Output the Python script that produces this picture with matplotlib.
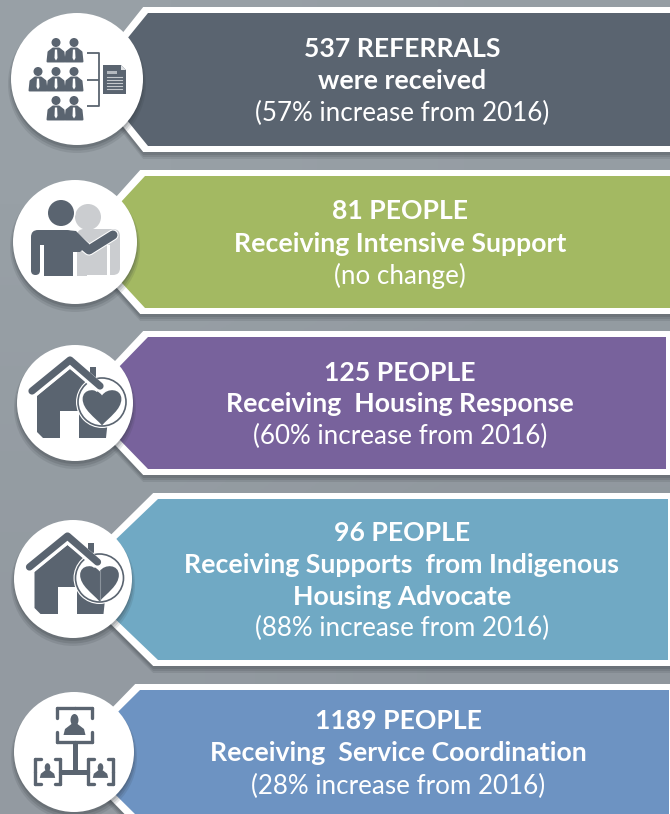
"""
Infographic: referrals and people receiving supports, with change from 2016.
"""

import matplotlib

matplotlib.use("Agg")

import matplotlib.pyplot as plt
import numpy as np
from matplotlib.colors import LinearSegmentedColormap
from matplotlib.patches import Circle, Ellipse, FancyBboxPatch, PathPatch, Polygon, Rectangle
from matplotlib.path import Path

plt.rcParams["font.family"] = ["Lato", "Open Sans", "DejaVu Sans"]

WIDTH, HEIGHT = 670, 814
DARK = "#5a6470"
LIGHT = "#cbcdd0"

headlines = ["537 REFERRALS", "81 PEOPLE", "125 PEOPLE", "96 PEOPLE", "1189 PEOPLE"]
descriptions = [
    ["were received"],
    ["Receiving Intensive Support"],
    ["Receiving  Housing Response"],
    ["Receiving Supports  from Indigenous", "Housing Advocate"],
    ["Receiving  Service Coordination"],
]
changes = [
    "(57% increase from 2016)",
    "(no change)",
    "(60% increase from 2016)",
    "(88% increase from 2016)",
    "(28% increase from 2016)",
]
colors = ["#5a6470", "#a3b962", "#78629c", "#70a9c4", "#6d93c2"]

# banner layout, in pixels: inner top, inner bottom, inner left corner, right edge
tops = [13, 176, 337, 499, 690]
bottoms = [146, 308, 469, 660, 819]
lefts = [148, 145, 148, 158, 140]
rights = [672, 672, 666, 668, 669]
apexes = [94, 84, 84, 74, 75]

# circle layout
circle_x = [77, 75, 75, 73, 74]
circle_y = [79, 242, 403, 579, 752]
circle_r = [66, 62, 58, 59, 60]
text_x = [402, 400, 400, 402, 398]
line_y = [[49, 81, 113], [211, 244, 276], [373, 404, 436], [533, 565, 597, 628], [721, 753, 786]]


def banner_outline(top, bottom, left, right, apex, grow=0):
    mid = 0.5 * (top + bottom)
    return [
        (apex - grow * 1.4, mid),
        (left - grow * 0.8, top - grow),
        (right + grow, top - grow),
        (right + grow, bottom + grow),
        (left - grow * 0.8, bottom + grow),
    ]


def draw_person(ax, x, y, color=DARK):
    # small bust in a suit, with a white tie
    ax.add_patch(Circle((x, y - 12.5), 4.5, fc=color, ec="none"))
    ax.add_patch(
        Polygon(
            [(x - 3, y - 6.5), (x + 3, y - 6.5), (x + 7.5, y - 3), (x + 8.5, y + 6.5),
             (x - 8.5, y + 6.5), (x - 7.5, y - 3)],
            fc=color, ec=color, lw=1.4, joinstyle="round",
        )
    )
    ax.add_patch(
        Polygon(
            [(x - 1.1, y - 5.5), (x + 1.1, y - 5.5), (x + 1.5, y + 3), (x, y + 5.5), (x - 1.5, y + 3)],
            fc="white", ec="none",
        )
    )


def draw_group_icon(ax):
    for px, py in [(38, 84), (56, 55), (74, 55), (56, 84), (74, 84), (56, 113), (74, 113)]:
        draw_person(ax, px, py)
    for seg in [[(87, 53), (99, 53), (99, 106), (87, 106)], [(87, 80), (99, 80)]]:
        xs, ys = zip(*seg)
        ax.plot(xs, ys, color=DARK, lw=1.3, solid_capstyle="butt")
    ax.add_patch(
        Polygon([(103, 65), (121, 65), (126, 70), (126, 94), (103, 94)], fc=DARK, ec="none")
    )
    ax.add_patch(Polygon([(121, 65), (126, 70), (121, 70)], fc="#dfe2e5", ec="none"))
    ax.add_patch(Rectangle((107, 71), 10, 2.5, fc="#b4b9bf", ec="none"))
    for ly in [77, 80, 83, 86, 89]:
        ax.plot([107, 122], [ly, ly], color="#c4c8cc", lw=0.8)


def draw_support_icon(ax):
    # person behind
    ax.add_patch(Circle((88, 217), 13, fc=LIGHT, ec="none"))
    ax.add_patch(
        FancyBboxPatch(
            (77, 229), 43, 46, boxstyle="round,pad=0,rounding_size=7", fc=LIGHT, ec="none"
        )
    )
    ax.add_patch(Rectangle((77, 262), 10, 14, fc=LIGHT, ec="none"))
    ax.add_patch(Rectangle((107, 245), 3, 32, fc="white", ec="none"))
    # person in front
    ax.add_patch(Circle((61, 213), 14.5, fc="white", ec="none", zorder=4.5))
    ax.add_patch(Circle((61, 213), 13, fc=DARK, ec="none", zorder=5))
    ax.add_patch(
        FancyBboxPatch(
            (31, 230), 42, 46, boxstyle="round,pad=0,rounding_size=7", fc=DARK, ec="none", zorder=5
        )
    )
    ax.add_patch(Rectangle((62, 266), 11, 10, fc=DARK, ec="none", zorder=5))
    ax.add_patch(Rectangle((31, 262), 13, 15, fc="white", ec="none", zorder=5.2))
    ax.add_patch(Rectangle((40, 245), 4, 20, fc="white", ec="none", zorder=5.2))
    ax.add_patch(
        FancyBboxPatch(
            (31, 240), 9, 35, boxstyle="round,pad=0,rounding_size=4.5", fc=DARK, ec="none", zorder=6
        )
    )
    # arm over the shoulder
    arm_x, arm_y = [72, 89, 113], [236, 250, 235]
    ax.plot(arm_x, arm_y, color="white", lw=8, zorder=5.5, solid_capstyle="round")
    ax.plot(arm_x, arm_y, color=DARK, lw=6.5, zorder=6, solid_capstyle="round")
    ax.add_patch(
        Polygon([(66, 230), (76, 231), (89, 244), (80, 252), (66, 252)], fc=DARK, ec="none", zorder=6)
    )


def heart_path(x, y, s):
    verts = [
        (x, y + 22 * s), (x - 8 * s, y + 13 * s), (x - 22 * s, y + 4 * s), (x - 22 * s, y - 8 * s),
        (x - 22 * s, y - 20 * s), (x - 6 * s, y - 21 * s), (x, y - 12 * s),
        (x + 6 * s, y - 21 * s), (x + 22 * s, y - 20 * s), (x + 22 * s, y - 8 * s),
        (x + 22 * s, y + 4 * s), (x + 8 * s, y + 13 * s), (x, y + 22 * s),
    ]
    codes = [Path.MOVETO] + [Path.CURVE4] * 12
    return Path(verts, codes)


def draw_house_icon(ax, dx, dy, split=False):
    # house body, door, roof, chimney, heart badge
    ax.add_patch(Rectangle((90 + dx, 367 + dy), 6, 18, fc=DARK, ec="none"))
    ax.add_patch(
        Polygon(
            [(37 + dx, 396 + dy), (70 + dx, 369 + dy), (110 + dx, 400 + dy), (106 + dx, 438 + dy),
             (43 + dx, 438 + dy), (37 + dx, 432 + dy)],
            fc=DARK, ec="none",
        )
    )
    ax.plot(
        [32 + dx, 70 + dx, 100 + dx], [393 + dy, 362 + dy, 388 + dy],
        color="white", lw=7.5, solid_capstyle="butt",
    )
    ax.plot(
        [32 + dx, 70 + dx, 100 + dx], [391 + dy, 360 + dy, 386 + dy],
        color=DARK, lw=5.2, solid_capstyle="round",
    )
    ax.add_patch(Rectangle((60 + dx, 411 + dy), 19, 28, fc="white", ec="none"))
    ax.add_patch(Circle((102 + dx, 402 + dy), 26, fc="white", ec="none"))
    ax.add_patch(Circle((102 + dx, 402 + dy), 24, fc="white", ec=DARK, lw=1.2))
    ax.add_patch(PathPatch(heart_path(102 + dx, 406 + dy, 0.88), fc=DARK, ec="none"))
    if split:
        ax.plot([102 + dx, 102 + dx], [394 + dy, 424 + dy], color="#8a929b", lw=0.8)


def draw_frame(ax, x, y, w, h, full_sides):
    # square frame, two opposite sides are whole and the other two are stubs
    if full_sides:
        stubs_x, stubs_y = 0.22, 0.5
    else:
        stubs_x, stubs_y = 0.5, 0.3
    for sx in [x, x + w]:
        ax.plot([sx, sx], [y, y + h * stubs_y], color=DARK, lw=2.4, solid_capstyle="round")
        ax.plot([sx, sx], [y + h * (1 - stubs_y), y + h], color=DARK, lw=2.4, solid_capstyle="round")
    for sy in [y, y + h]:
        ax.plot([x, x + w * stubs_x], [sy, sy], color=DARK, lw=2.4, solid_capstyle="round")
        ax.plot([x + w * (1 - stubs_x), x + w], [sy, sy], color=DARK, lw=2.4, solid_capstyle="round")


def draw_bust(ax, x, y, s):
    ax.add_patch(Ellipse((x, y - 8 * s), 8 * s, 12 * s, fc=DARK, ec="none"))
    ax.add_patch(
        Polygon(
            [(x - 3 * s, y - 4 * s), (x + 3 * s, y - 4 * s), (x + 9.5 * s, y + 1 * s),
             (x + 11 * s, y + 7 * s), (x - 11 * s, y + 7 * s), (x - 9.5 * s, y + 1 * s)],
            fc=DARK, ec="none",
        )
    )


def draw_network_icon(ax):
    ax.plot([74.5, 74.5], [742, 772], color=DARK, lw=3.6, solid_capstyle="butt")
    ax.plot([60, 88], [772, 772], color=DARK, lw=3.6, solid_capstyle="butt")
    draw_frame(ax, 57, 708, 35, 34, False)
    draw_bust(ax, 74.5, 728, 1.0)
    for bx in [35, 88]:
        draw_frame(ax, bx, 759, 25, 25, True)
    for bust_x in [47.5, 100.5]:
        draw_bust(ax, bust_x, 773, 0.7)


def draw_banner(ax, i):
    outline = banner_outline(tops[i], bottoms[i], lefts[i], rights[i], apexes[i])
    outer = banner_outline(tops[i], bottoms[i], lefts[i], rights[i], apexes[i], grow=6)
    # soft shadow under the white border
    for off, alpha in [(7, 0.12), (5, 0.14), (3, 0.16)]:
        shadow = [(px, py + off) for px, py in outer]
        ax.add_patch(Polygon(shadow, fc="#30363c", ec="none", alpha=alpha))
    ax.add_patch(Polygon(outer, fc="white", ec="none"))
    ax.add_patch(Polygon(outline, fc=colors[i], ec="none"))


def draw_circle(ax, i):
    for grow, off, alpha in [(3, 5, 0.12), (1.5, 4, 0.16), (0, 3, 0.2)]:
        ax.add_patch(
            Circle(
                (circle_x[i], circle_y[i] + off), circle_r[i] + grow,
                fc="#30363c", ec="none", alpha=alpha,
            )
        )
    ax.add_patch(Circle((circle_x[i], circle_y[i]), circle_r[i], fc="white", ec="none"))


fig = plt.figure(figsize=(WIDTH / 100, HEIGHT / 100), dpi=100)
ax = fig.add_axes([0, 0, 1, 1])

# background, slightly lighter at the top right
gradient = np.array([[0.0, 0.25], [0.55, 1.0]])
bg_cmap = LinearSegmentedColormap.from_list("bg", ["#98a0a6", "#8f969d"])
ax.imshow(
    gradient, extent=(0, WIDTH, HEIGHT, 0), cmap=bg_cmap, interpolation="bilinear",
    aspect="auto", zorder=0,
)

for i in range(len(headlines)):
    draw_banner(ax, i)
    draw_circle(ax, i)

draw_group_icon(ax)
draw_support_icon(ax)
draw_house_icon(ax, 0, 0)
draw_house_icon(ax, -2.5, 176, split=True)
draw_network_icon(ax)

for i in range(len(headlines)):
    lines = [headlines[i]] + descriptions[i] + [changes[i]]
    for j, line in enumerate(lines):
        is_last = j == len(lines) - 1
        ax.text(
            text_x[i], line_y[i][j], line, color="white", ha="center", va="center",
            fontsize=18.75 if is_last else 19.2,
            fontweight="normal" if is_last else "bold",
            zorder=10,
        )

ax.set_xlim(0, WIDTH)
ax.set_ylim(HEIGHT, 0)
ax.axis("off")
fig.savefig("out.png", dpi=100)
